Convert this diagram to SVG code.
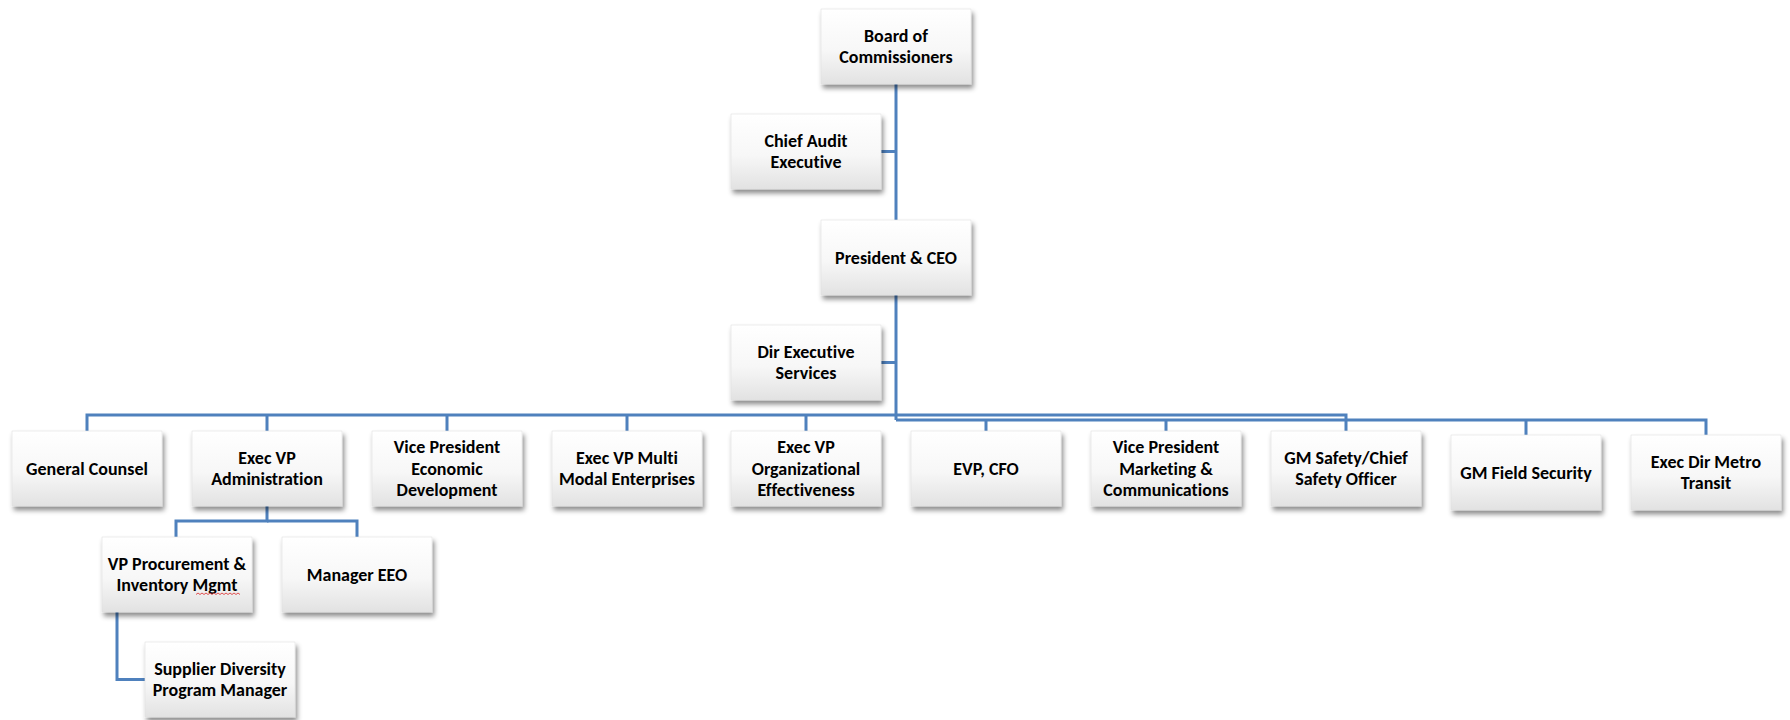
<svg xmlns="http://www.w3.org/2000/svg" width="1790" height="720" viewBox="0 0 1790 720">
  <defs>
    <linearGradient id="boxFill" x1="0" y1="0" x2="0" y2="1">
      <stop offset="0" stop-color="#ffffff"/>
      <stop offset="0.55" stop-color="#f7f7f7"/>
      <stop offset="1" stop-color="#e2e2e2"/>
    </linearGradient>
    <filter id="shadow" x="-10%" y="-10%" width="125%" height="135%">
      <feDropShadow dx="2" dy="4" stdDeviation="2.5" flood-color="#000000" flood-opacity="0.45"/>
    </filter>
    <style>
      .box { fill: url(#boxFill); stroke: #e0e0e0; stroke-width: 0.6; filter: url(#shadow); }
      .lbl { font-family: Carlito, Calibri, Lato, "Liberation Sans", sans-serif; font-weight: 700; font-size: 18px; fill: #000000; text-anchor: middle; font-variant-ligatures: none; font-feature-settings: "liga" 0; }
      .conn { fill: none; stroke: #4f81bd; stroke-width: 3; stroke-linejoin: miter; }
      .squiggle { fill: none; stroke: #e05050; stroke-width: 1; }
    </style>
  </defs>

  <rect width="1790" height="720" fill="#ffffff"/>

  <!-- reporting lines -->
  <g id="connectors" class="conn">
    <path d="M896 83 V220"/>
    <path d="M881 151.5 H896"/>
    <path d="M896 295 V420"/>
    <path d="M881 362.5 H896"/>
    <!-- left branch of the bus -->
    <path d="M896 415 H87 V431"/>
    <path d="M267 415 V431"/>
    <path d="M447 415 V431"/>
    <path d="M627 415 V431"/>
    <path d="M806 415 V431"/>
    <!-- right branches of the bus -->
    <path d="M896 415 H1346 V431"/>
    <path d="M896 420 H1706 V435"/>
    <path d="M986 420 V431"/>
    <path d="M1166 420 V431"/>
    <path d="M1526 420 V435"/>
    <!-- administration sub-tree -->
    <path d="M267 506 V521 H176 V537"/>
    <path d="M267 521 H357 V537"/>
    <path d="M117 612 V679.5 H145"/>
  </g>

  <g id="board">
    <rect class="box" x="821" y="9" width="150" height="75"/>
    <text class="lbl" x="896" y="41.5">Board of</text>
    <text class="lbl" x="896" y="63">Commissioners</text>
  </g>

  <g id="chief-audit">
    <rect class="box" x="731" y="114" width="150" height="75"/>
    <text class="lbl" x="806" y="146.5">Chief Audit</text>
    <text class="lbl" x="806" y="168">Executive</text>
  </g>

  <g id="president">
    <rect class="box" x="821" y="220" width="150" height="75"/>
    <text class="lbl" x="896" y="263.8">President &amp; CEO</text>
  </g>

  <g id="dir-exec-services">
    <rect class="box" x="731" y="325" width="150" height="75"/>
    <text class="lbl" x="806" y="357.5">Dir Executive</text>
    <text class="lbl" x="806" y="379">Services</text>
  </g>

  <g id="general-counsel">
    <rect class="box" x="12" y="431" width="150" height="75"/>
    <text class="lbl" x="87" y="474.8">General Counsel</text>
  </g>

  <g id="evp-admin">
    <rect class="box" x="192" y="431" width="150" height="75"/>
    <text class="lbl" x="267" y="463.5">Exec VP</text>
    <text class="lbl" x="267" y="485">Administration</text>
  </g>

  <g id="vp-econ-dev">
    <rect class="box" x="372" y="431" width="150" height="75"/>
    <text class="lbl" x="447" y="453.3">Vice President</text>
    <text class="lbl" x="447" y="474.8">Economic</text>
    <text class="lbl" x="447" y="496.3">Development</text>
  </g>

  <g id="evp-multimodal">
    <rect class="box" x="552" y="431" width="150" height="75"/>
    <text class="lbl" x="627" y="463.5">Exec VP Multi</text>
    <text class="lbl" x="627" y="485">Modal Enterprises</text>
  </g>

  <g id="evp-org-eff">
    <rect class="box" x="731" y="431" width="150" height="75"/>
    <text class="lbl" x="806" y="453.3">Exec VP</text>
    <text class="lbl" x="806" y="474.8">Organizational</text>
    <text class="lbl" x="806" y="496.3">Effectiveness</text>
  </g>

  <g id="evp-cfo">
    <rect class="box" x="911" y="431" width="150" height="75"/>
    <text class="lbl" x="986" y="474.8">EVP, CFO</text>
  </g>

  <g id="vp-marketing">
    <rect class="box" x="1091" y="431" width="150" height="75"/>
    <text class="lbl" x="1166" y="453.3">Vice President</text>
    <text class="lbl" x="1166" y="474.8">Marketing &amp;</text>
    <text class="lbl" x="1166" y="496.3">Communications</text>
  </g>

  <g id="gm-safety">
    <rect class="box" x="1271" y="431" width="150" height="75"/>
    <text class="lbl" x="1346" y="463.5">GM Safety/Chief</text>
    <text class="lbl" x="1346" y="485">Safety Officer</text>
  </g>

  <g id="gm-field-security">
    <rect class="box" x="1451" y="435" width="150" height="75"/>
    <text class="lbl" x="1526" y="478.8">GM Field Security</text>
  </g>

  <g id="metro-transit">
    <rect class="box" x="1631" y="435" width="150" height="75"/>
    <text class="lbl" x="1706" y="467.5">Exec Dir Metro</text>
    <text class="lbl" x="1706" y="489">Transit</text>
  </g>

  <g id="vp-procurement">
    <rect class="box" x="102" y="537" width="150" height="75"/>
    <text class="lbl" x="177" y="569.5">VP Procurement &amp;</text>
    <text class="lbl" x="177" y="591">Inventory Mgmt</text>
    <path class="squiggle" d="M196 594.5 l2 -1.5 l2 1.5 l2 -1.5 l2 1.5 l2 -1.5 l2 1.5 l2 -1.5 l2 1.5 l2 -1.5 l2 1.5 l2 -1.5 l2 1.5 l2 -1.5 l2 1.5 l2 -1.5 l2 1.5 l2 -1.5 l2 1.5 l2 -1.5 l2 1.5 l2 -1.5 l2 1.5"/>
  </g>

  <g id="manager-eeo">
    <rect class="box" x="282" y="537" width="150" height="75"/>
    <text class="lbl" x="357" y="580.8">Manager EEO</text>
  </g>

  <g id="supplier-diversity">
    <rect class="box" x="145" y="642" width="150" height="75"/>
    <text class="lbl" x="220" y="674.5">Supplier Diversity</text>
    <text class="lbl" x="220" y="696">Program Manager</text>
  </g>
</svg>
